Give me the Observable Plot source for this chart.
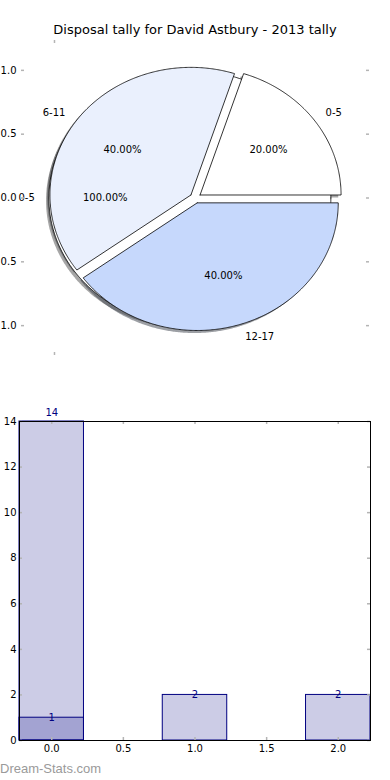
<!DOCTYPE html>
<html>
<head>
<meta charset="utf-8">
<script src="https://cdn.jsdelivr.net/npm/d3@7"></script>
<script src="https://cdn.jsdelivr.net/npm/@observablehq/plot@0.6"></script>
<style>
  html, body { margin: 0; padding: 0; background: #fff; width: 390px; height: 780px; overflow: hidden; position: relative; }
  #title { position: absolute; left: 0; top: 22px; width: 390px; text-align: center; font: 13px "DejaVu Sans", sans-serif; line-height: 16px; color: #000; }
  #pie { position: absolute; left: -10px; top: 0; }
  #bar { position: absolute; left: 0; top: 395px; }
  #wm { position: absolute; left: 0; top: 761px; font: 13px "Liberation Sans", sans-serif; color: #9a9a9a; line-height: 16px; }
</style>
</head>
<body>
<div id="pie"></div>
<div id="title"></div>
<div id="bar"></div>
<div id="wm"></div>
<script>
// ---- data ----
const chartTitle = "Disposal tally for David Astbury - 2013 tally";
const watermark = "Dream-Stats.com";

const pieLabels = ["0-5", "6-11", "12-17"];
const pieCounts = [1, 2, 2];
const pieColors = ["#ffffff", "#eaf0fd", "#c6d8fc"];

const outerLabels = ["0-5"];
const outerCounts = [1];
const outerColors = ["#ffffff"];

const pieExplode = 0.04;
const pieYTicks = [-1, -0.5, 0, 0.5, 1];
const pieXTicks = [-1];

const barX = [0, 1, 2];
const barValues = [14, 2, 2];
const bar2X = [0];
const bar2Values = [1];
const barYTicks = [0, 2, 4, 6, 8, 10, 12, 14];
const barXTicks = [0, 0.5, 1, 1.5, 2];
const barWidth = 0.45;

document.getElementById("title").textContent = chartTitle;
document.getElementById("wm").textContent = watermark;

const font = {fontFamily: "DejaVu Sans", fontSize: "10px", background: "#fff", color: "#000", overflow: "visible"};
const tickGray = "#b4b4b4";

// ---- pie geometry from data ----
function slices(counts, labels, colors) {
  const total = d3.sum(counts);
  let a = 0;
  return counts.map((c, i) => {
    const t1 = a, t2 = a + 360 * c / total;
    a = t2;
    const full = Math.abs(t2 - t1 - 360) < 1e-9;
    const mid = (t1 + t2) / 2 * Math.PI / 180;
    const cx = pieExplode * Math.cos(mid), cy = pieExplode * Math.sin(mid);
    const pts = [];
    if (!full) pts.push({x: cx, y: cy});
    const n = Math.max(4, Math.ceil((t2 - t1) * 2));
    for (let k = 0; k <= n; k++) {
      const t = (t1 + (t2 - t1) * k / n) * Math.PI / 180;
      pts.push({x: cx + Math.cos(t), y: cy + Math.sin(t)});
    }
    if (!full) pts.push({x: cx, y: cy});
    return {
      label: labels[i], color: colors[i], pts,
      pct: (100 * c / total).toFixed(2) + "%",
      lx: cx + 1.1 * Math.cos(mid), ly: cy + 1.1 * Math.sin(mid),
      px: cx + 0.6 * Math.cos(mid), py: cy + 0.6 * Math.sin(mid)
    };
  });
}
const outer = slices(outerCounts, outerLabels, outerColors);
const inner = slices(pieCounts, pieLabels, pieColors);
const all = [...outer, ...inner];

function shade(c) {
  const r = d3.rgb(c);
  return d3.rgb(r.r * 0.3, r.g * 0.3, r.b * 0.3).formatHex();
}

const pieW = 400, pieH = 370, pML = 31, pMR = 21, pMT = 40, pMB = 15;
const pInnerW = pieW - pML - pMR, pInnerH = pieH - pMT - pMB;
const lim = 1.234;

const pieMarks = [];
for (const s of all) {
  pieMarks.push(Plot.line(s.pts.map(p => ({x: p.x - 0.02, y: p.y - 0.02})),
    {x: "x", y: "y", fill: shade(s.color), fillOpacity: 0.5, stroke: "none"}));
}
for (const s of all) {
  pieMarks.push(Plot.line(s.pts, {x: "x", y: "y", fill: s.color, stroke: "#000", strokeWidth: 0.8, strokeLinejoin: "miter"}));
}
// the reference's left edge hides the minus signs, so labels show magnitudes
const pieTickFormat = d => d3.format(".1f")(Math.abs(d));
pieMarks.push(
  Plot.text(all.filter(s => s.lx >= 0), {x: "lx", y: "ly", text: "label", textAnchor: "start", lineAnchor: "middle", fill: "#000"}),
  Plot.text(all.filter(s => s.lx < 0), {x: "lx", y: "ly", text: "label", textAnchor: "end", lineAnchor: "middle", fill: "#000"}),
  Plot.text(all, {x: "px", y: "py", text: "pct", textAnchor: "middle", lineAnchor: "middle", fill: "#000"}),
  Plot.tickY(pieYTicks, {y: d => d, stroke: tickGray, strokeWidth: 1.5, insetRight: pInnerW - 3}),
  Plot.tickY(pieYTicks, {y: d => d, stroke: tickGray, strokeWidth: 1.5, insetLeft: pInnerW - 3}),
  Plot.tickX(pieXTicks, {x: d => d, stroke: tickGray, strokeWidth: 1.5, insetBottom: pInnerH - 3}),
  Plot.tickX(pieXTicks, {x: d => d, stroke: tickGray, strokeWidth: 1.5, insetTop: pInnerH - 3}),
  Plot.axisY({ticks: pieYTicks, tickSize: 0, tickPadding: 5, tickFormat: pieTickFormat, label: null, fill: "#000"})
);

const pie = Plot.plot({
  width: pieW, height: pieH,
  marginLeft: pML, marginRight: pMR, marginTop: pMT, marginBottom: pMB,
  style: font,
  x: {domain: [-lim, lim], axis: null},
  y: {domain: [-lim, lim], label: null},
  marks: pieMarks
});
document.getElementById("pie").appendChild(pie);

// ---- bar chart ----
const bars1 = barX.map((x, i) => ({x, v: barValues[i]}));
const bars2 = bar2X.map((x, i) => ({x, v: bar2Values[i]}));
const vmax = d3.max(barValues);

const barW = 390, barH = 375, bML = 19, bMR = 20, bMT = 26, bMB = 30;
const bInnerW = barW - bML - bMR, bInnerH = barH - bMT - bMB;

const barPlot = Plot.plot({
  width: barW, height: barH,
  marginLeft: bML, marginRight: bMR, marginTop: bMT, marginBottom: bMB,
  style: font,
  x: {domain: [barX[0] - barWidth / 2, barX[barX.length - 1] + barWidth / 2], label: null},
  y: {domain: [0, vmax], label: null},
  marks: [
    Plot.rect(bars1, {x1: d => d.x - barWidth / 2, x2: d => d.x + barWidth / 2, y1: 0, y2: "v", fill: "#000080", fillOpacity: 0.2, stroke: "#000080", strokeWidth: 1}),
    Plot.rect(bars2, {x1: d => d.x - barWidth / 2, x2: d => d.x + barWidth / 2, y1: 0, y2: "v", fill: "#000080", fillOpacity: 0.2, stroke: "#000080", strokeWidth: 1}),
    Plot.tickY(barYTicks, {y: d => d, stroke: tickGray, strokeWidth: 1.5, insetRight: bInnerW - 3}),
    Plot.tickY(barYTicks, {y: d => d, stroke: tickGray, strokeWidth: 1.5, insetLeft: bInnerW - 3}),
    Plot.tickX(barXTicks, {x: d => d, stroke: tickGray, strokeWidth: 1.5, insetBottom: bInnerH - 3}),
    Plot.tickX(barXTicks, {x: d => d, stroke: tickGray, strokeWidth: 1.5, insetTop: bInnerH - 3}),
    Plot.frame({stroke: "#000", strokeWidth: 1}),
    Plot.text(bars1.filter(d => d.v === vmax), {x: "x", y: "v", text: d => String(d.v), fill: "#000080", lineAnchor: "middle", dy: -9}),
    Plot.text(bars1.filter(d => d.v !== vmax), {x: "x", y: "v", text: d => String(d.v), fill: "#000080", lineAnchor: "middle"}),
    Plot.text(bars2, {x: "x", y: "v", text: d => String(d.v), fill: "#000080", lineAnchor: "middle"}),
    Plot.axisY({ticks: barYTicks, tickSize: 0, tickPadding: 3, tickFormat: d => String(d), label: null, fill: "#000"}),
    Plot.axisX({ticks: barXTicks, tickSize: 0, tickPadding: 4, tickFormat: d3.format(".1f"), label: null, fill: "#000"})
  ]
});
document.getElementById("bar").appendChild(barPlot);
</script>
</body>
</html>
